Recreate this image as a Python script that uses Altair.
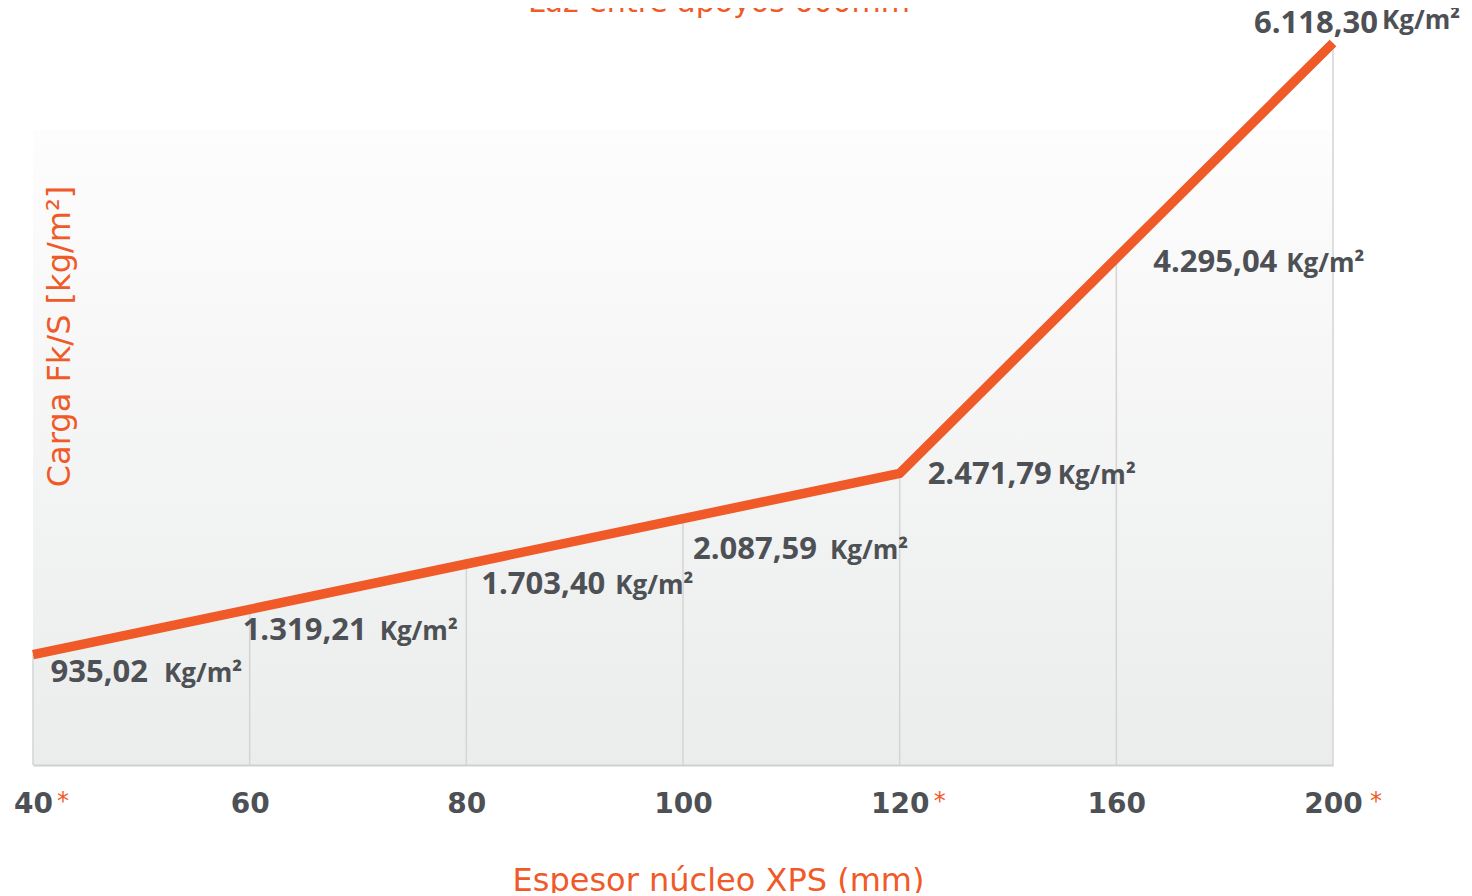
import altair as alt
import pandas as pd

# ---- data ----
categories = ["40", "60", "80", "100", "120", "160", "200"]          # espesor núcleo XPS (mm)
loads = [935.02, 1319.21, 1703.40, 2087.59, 2471.79, 4295.04, 6118.30]  # carga Fk/S (kg/m²)
starred = ["40", "120", "200"]                                         # categories marked with *
unit_text = "Kg/m²"
chart_title = ["Luz entre apoyos 600mm"]
background_top = 5380  # top of the shaded panel, kg/m²

# ---- styling / layout ----
ORANGE = "#f05a28"
DARK = "#4d5054"
FONT = "DejaVu Sans"
LABEL_FONT = "Open Sans"
# per label: (number right-end dx, unit left dx, number dy, unit dy) relative to the point
label_offsets = {
    "40": (115, 131, 27, 27),
    "60": (117, 130, 31, 31),
    "80": (139, 149, 30, 30),
    "100": (134, 147, 40, 40),
    "120": (152, 158, 11, 11),
    "160": (161, 170, 14, 14),
    "200": (45, 49, -10, -14),
}
asterisk_dx = {"40": 30, "120": 40, "200": 43}


def es_format(v):
    s = f"{v:,.2f}"
    return s.replace(",", "#").replace(".", ",").replace("#", ".")


df = pd.DataFrame({
    "espesor": categories,
    "carga": loads,
    "label": [es_format(v) for v in loads],
    "unit": [unit_text] * len(categories),
    "zero": [0] * len(categories),
})
bg_df = pd.DataFrame({"x0": [categories[0]], "x1": [categories[-1]],
                      "y0": [0], "y1": [background_top]})
title_df = pd.DataFrame({"title": chart_title, "espesor": [categories[3]],
                         "carga": [max(loads)]})

x_scale = alt.Scale(type="point", padding=0, domain=categories)
y_scale = alt.Scale(domain=[0, max(loads)], nice=False, zero=True)

x_axis = alt.Axis(
    title="Espesor núcleo XPS (mm)",
    labelAngle=0, labelFont=FONT, labelFontWeight="bold", labelFontSize=28,
    labelColor=DARK, labelPadding=25, ticks=False, grid=False,
    domainColor="#d0d0d0", domainWidth=2,
    titleFont=FONT, titleFontWeight="normal", titleFontSize=32, titleColor=ORANGE,
    titleX=685, titleY=125, titleAlign="center", titleBaseline="alphabetic",
    zindex=1,
)
y_axis = alt.Axis(
    title="Carga Fk/S [kg/m²]",
    labels=False, ticks=False, domain=False, grid=False,
    titleFont=FONT, titleFontWeight="normal", titleFontSize=32, titleColor=ORANGE,
    titleAngle=270, titleX=36, titleY=293, titleAlign="center", titleBaseline="alphabetic",
    zindex=1,
)

Xn = alt.X("espesor:O", scale=x_scale, sort=categories, axis=x_axis)
Yn = alt.Y("carga:Q", scale=y_scale, axis=y_axis)

gradient = alt.Gradient(
    gradient="linear",
    stops=[alt.GradientStop(offset=0, color="#fdfdfd"),
           alt.GradientStop(offset=1, color="#ebecec")],
    x1=0, x2=0, y1=0, y2=1,
)

background = alt.Chart(bg_df).mark_rect(color=gradient).encode(
    x=alt.X("x0:O", scale=x_scale, sort=categories, axis=x_axis),
    x2="x1:O",
    y=alt.Y("y1:Q", scale=y_scale, axis=y_axis),
    y2="y0:Q",
)

base = alt.Chart(df)

rules = base.mark_rule(color="#d4d4d4", strokeWidth=1.5).encode(
    x=Xn, y=Yn, y2="zero:Q"
)

line = base.mark_line(color=ORANGE, strokeWidth=9.5, strokeCap="butt",
                      strokeJoin="miter").encode(x=Xn, y=Yn)

title_text = alt.Chart(title_df).mark_text(
    align="center", baseline="alphabetic", dx=36, dy=-31,
    font=FONT, fontSize=30, color=ORANGE,
).encode(x=Xn, y=Yn, text="title:N")

layers = [background, rules, line, title_text]

for cat in categories:
    ndx, udx, ndy, udy = label_offsets[cat]
    sub = base.transform_filter(alt.datum.espesor == cat)
    layers.append(
        sub.mark_text(align="right", baseline="alphabetic", dx=ndx, dy=ndy,
                      font=LABEL_FONT, fontWeight="bold", fontSize=31, color=DARK)
        .encode(x=Xn, y=Yn, text="label:N")
    )
    layers.append(
        sub.mark_text(align="left", baseline="alphabetic", dx=udx, dy=udy,
                      font=LABEL_FONT, fontWeight="bold", fontSize=26, color=DARK)
        .encode(x=Xn, y=Yn, text="unit:N")
    )

for cat in starred:
    sub = base.transform_filter(alt.datum.espesor == cat)
    layers.append(
        sub.mark_text(text="*", align="center", baseline="alphabetic",
                      dx=asterisk_dx[cat], dy=44, font=FONT, fontSize=24,
                      color=ORANGE)
        .encode(x=Xn, y=alt.Y("zero:Q", scale=y_scale, axis=y_axis))
    )

chart = alt.layer(*layers).properties(
    width=1300,
    height=722,
    background="white",
    padding={"left": 25, "top": 35, "right": 131, "bottom": 128},
    autosize=alt.AutoSizeParams(type="none"),
).configure_view(strokeWidth=0, stroke="transparent")

chart.save("out.html", embed_options={"renderer": "svg", "actions": False})
